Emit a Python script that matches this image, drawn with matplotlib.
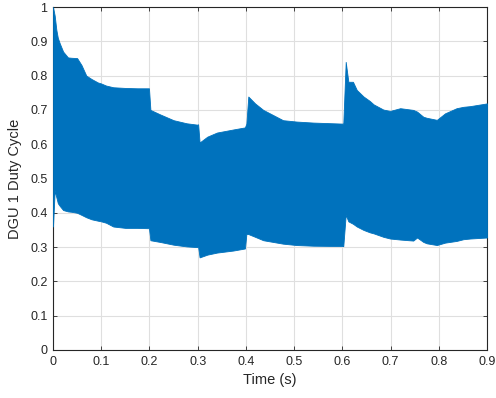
import matplotlib
matplotlib.use("Agg")
import matplotlib.pyplot as plt
import numpy as np

# Envelope of the (densely switching) duty-cycle signal
time_s = [0.0, 0.0035, 0.007, 0.010, 0.014, 0.021, 0.031, 0.038, 0.050, 0.059,
          0.069, 0.080, 0.093, 0.100, 0.110, 0.125, 0.150, 0.175, 0.199, 0.202,
          0.222, 0.250, 0.277, 0.299, 0.301, 0.304, 0.320, 0.340, 0.374, 0.398,
          0.401, 0.405, 0.419, 0.436, 0.477, 0.505, 0.540, 0.601, 0.602, 0.607,
          0.6125, 0.622, 0.630, 0.644, 0.657, 0.665, 0.685, 0.699, 0.720, 0.747,
          0.755, 0.768, 0.775, 0.796, 0.813, 0.837, 0.851, 0.865, 0.900]

duty_upper = [1.000, 0.975, 0.933, 0.910, 0.894, 0.870, 0.853, 0.852, 0.851, 0.831,
              0.800, 0.790, 0.780, 0.777, 0.771, 0.766, 0.764, 0.763, 0.763, 0.700,
              0.687, 0.670, 0.661, 0.657, 0.658, 0.605, 0.622, 0.634, 0.643, 0.649,
              0.660, 0.739, 0.719, 0.700, 0.670, 0.666, 0.663, 0.660, 0.660, 0.840,
              0.782, 0.782, 0.758, 0.739, 0.726, 0.716, 0.701, 0.697, 0.705, 0.700,
              0.695, 0.680, 0.677, 0.671, 0.690, 0.705, 0.709, 0.711, 0.719]

duty_lower = [0.360, 0.465, 0.445, 0.428, 0.420, 0.408, 0.404, 0.403, 0.400, 0.394,
              0.387, 0.381, 0.377, 0.375, 0.371, 0.360, 0.356, 0.356, 0.355, 0.320,
              0.315, 0.307, 0.302, 0.300, 0.300, 0.270, 0.278, 0.284, 0.290, 0.296,
              0.338, 0.338, 0.330, 0.320, 0.310, 0.306, 0.304, 0.303, 0.303, 0.394,
              0.375, 0.368, 0.360, 0.350, 0.343, 0.340, 0.330, 0.325, 0.322, 0.319,
              0.328, 0.315, 0.311, 0.306, 0.313, 0.318, 0.323, 0.325, 0.328]

x_ticks = [0, 0.1, 0.2, 0.3, 0.4, 0.5, 0.6, 0.7, 0.8, 0.9]
x_tick_labels = ["0", "0.1", "0.2", "0.3", "0.4", "0.5", "0.6", "0.7", "0.8", "0.9"]
y_ticks = [0, 0.1, 0.2, 0.3, 0.4, 0.5, 0.6, 0.7, 0.8, 0.9, 1.0]
y_tick_labels = ["0", "0.1", "0.2", "0.3", "0.4", "0.5", "0.6", "0.7", "0.8", "0.9", "1"]

plt.rcParams['font.family'] = ['Liberation Sans', 'DejaVu Sans']
dark = '#262626'

fig = plt.figure(figsize=(4.96, 3.98), dpi=100)
ax = fig.add_axes([53/496, 1 - 350/398, 434/496, 343/398])

ax.fill_between(time_s, duty_lower, duty_upper, color='#0072BD', linewidth=0.6,
                edgecolor='#0072BD', zorder=3)

ax.set_xlim(0, 0.9)
ax.set_ylim(0, 1)
ax.set_xticks(x_ticks)
ax.set_xticklabels(x_tick_labels)
ax.set_yticks(y_ticks)
ax.set_yticklabels(y_tick_labels)
ax.grid(True, color='#dfdfdf', linewidth=0.8, zorder=0)
ax.set_axisbelow(True)
ax.tick_params(direction='in', length=3, width=0.6, colors=dark, labelsize=9,
               top=True, right=True, pad=4)
for s in ax.spines.values():
    s.set_color(dark)
    s.set_linewidth(0.8)

ax.set_xlabel('Time (s)', fontsize=10.5, color=dark, labelpad=4)
ax.set_ylabel('DGU 1 Duty Cycle', fontsize=10.5, color=dark, labelpad=6)

fig.savefig('out.png', dpi=100)
